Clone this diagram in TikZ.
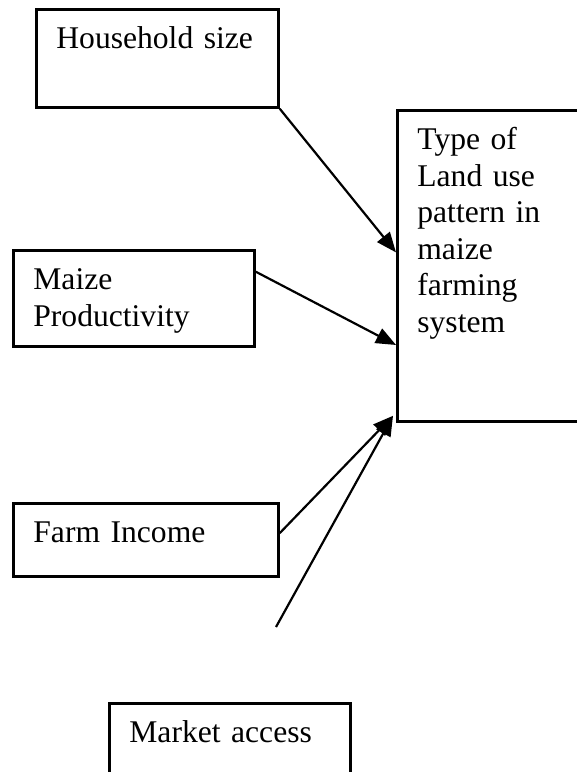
\documentclass[tikz,border=0pt]{standalone}
\usepackage{fontspec}
\setmainfont{Liberation Serif}
\usetikzlibrary{arrows.meta,calc}

\begin{document}
\begin{tikzpicture}[x=0.5pt, y=-0.5pt,
        box/.style={rectangle, draw=black, line width=1.4pt, anchor=north west,
                   align=left, inner xsep=10pt, inner ysep=0pt, text height=19.5pt,
                   font=\fontsize{15.8}{18.3}\selectfont},
        arrow/.style={-{Triangle[length=10pt,width=8pt]}, line width=1.1pt}
    ]
        \useasboundingbox (0,0) rectangle (577,772);

        \node[box, text width=101pt, text depth=29.5pt] (hh) at (35,8) {Household size};
        \node[box, text width=90pt, text depth=136pt] (type) at (396,109)
            {Type of\\Land use\\pattern in\\maize\\farming\\system};
        \node[box, text width=100.5pt, text depth=28.5pt] (maize) at (12,249) {Maize\\Productivity};
        \node[box, text width=112.5pt, text depth=17pt] (farm) at (12,502) {Farm Income};
        \node[box, text width=100.5pt, text depth=29.5pt] (market) at (108,702) {Market access};
        \coordinate (mkt) at (276,627);

        \draw[arrow] (hh.south east) -- ($(type.north west)!0.457!(type.south west)$);
        \draw[arrow] ($(maize.north east)!0.23!(maize.south east)$) -- ($(type.north west)!0.752!(type.south west)$);
        \draw[arrow] ($(farm.north east)!0.41!(farm.south east)$) -- ($(type.south west)+(-3,-7)$);
        \draw[arrow] (mkt) -- ($(type.south west)+(-3,-7)$);
    \end{tikzpicture}
\end{document}
